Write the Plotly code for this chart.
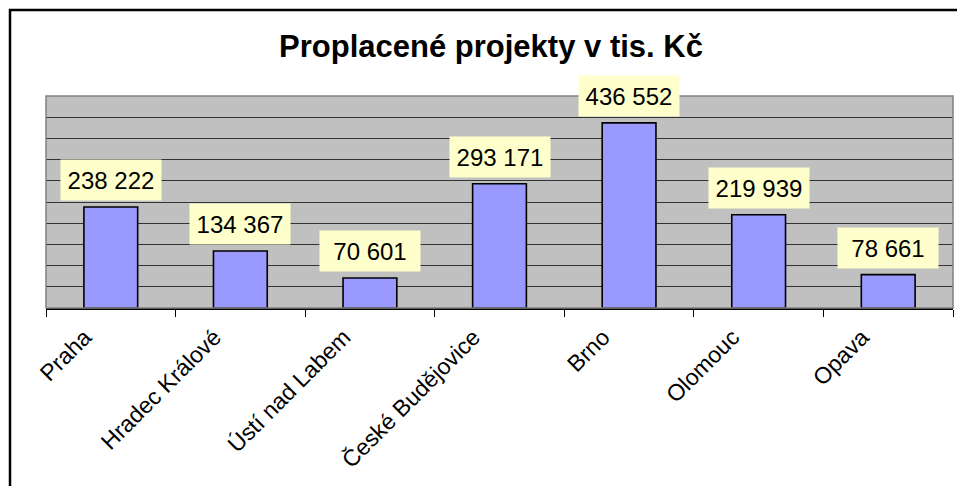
import plotly.graph_objects as go

# data (thousands of CZK)
cities = ["Praha", "Hradec Králové", "Ústí nad Labem", "České Budějovice",
          "Brno", "Olomouc", "Opava"]
paid = [238222, 134367, 70601, 293171, 436552, 219939, 78661]
labels = ["238 222", "134 367", "70 601", "293 171", "436 552", "219 939", "78 661"]

FONT = "Arial, Liberation Sans, sans-serif"
W, H = 957, 486
L, R, T, B = 46, 4, 96, 178

fig = go.Figure(go.Bar(
    x=cities, y=paid,
    width=0.415,
    marker=dict(color="#9999FF", line=dict(color="black", width=1.6)),
    hoverinfo="x+y",
))

# yellow value boxes above the bars
for c, v, t in zip(cities, paid, labels):
    fig.add_annotation(
        x=c, y=v, text=t, showarrow=False,
        yanchor="bottom", yshift=6,
        font=dict(family=FONT, size=24, color="black"),
        bgcolor="#FFFFCC", borderpad=5, width=90, height=30,
    )

# outer chart border (only top and left are visible in the frame)
pw, ph = W - L - R, H - T - B
fig.add_shape(type="rect", xref="paper", yref="paper",
              x0=(10 - L) / pw, x1=(W + 20 - L) / pw,
              y0=-(H + 20 - (T + ph)) / ph, y1=(T + ph - 10) / ph,
              line=dict(color="black", width=2.5), layer="below")
# plot area frame
fig.add_shape(type="rect", xref="paper", yref="paper",
              x0=0, x1=1, y0=0, y1=1,
              line=dict(color="#808080", width=1.5))

fig.update_layout(
    width=W, height=H,
    margin=dict(l=L, r=R, t=T, b=B, pad=0),
    paper_bgcolor="white", plot_bgcolor="#C0C0C0",
    showlegend=False,
    title=dict(text="<b>Proplacené projekty v tis. Kč</b>",
               x=491 / W, xanchor="center", xref="container",
               y=1 - 46 / H, yanchor="middle", yref="container",
               font=dict(family=FONT, size=31, color="black")),
    xaxis=dict(
        type="category", tickangle=-45, tickson="boundaries",
        ticks="outside", ticklen=7, tickwidth=1, tickcolor="black",
        showline=True, linecolor="black", linewidth=1.5,
        showgrid=False, automargin=False,
        ticklabelshift=-26, ticklabelstandoff=5,
        tickfont=dict(family=FONT, size=23, color="black"),
    ),
    yaxis=dict(
        range=[0, 500000], dtick=50000, showticklabels=False,
        showgrid=True, gridcolor="#333333", gridwidth=1.3,
        zeroline=False, ticks="", automargin=False,
    ),
)

# drop the browser's default page margin so the chart sits at (0, 0)
fig.write_html("out.html", config={"displayModeBar": False},
               post_script="document.body.style.margin='0';")
